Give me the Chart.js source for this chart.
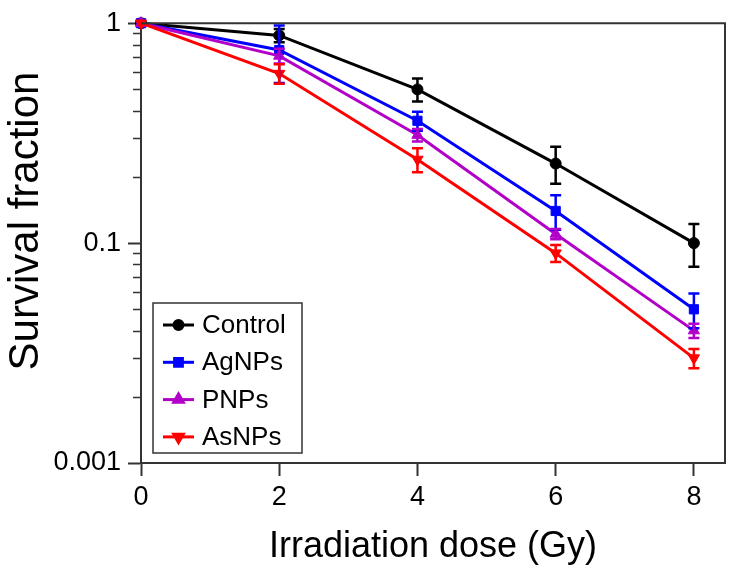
<!DOCTYPE html>
<html>
<head>
<meta charset="utf-8">
<script src="https://cdn.jsdelivr.net/npm/chart.js@4.4.1/dist/chart.umd.min.js"></script>
<style>
  body { margin: 0; background: #fff; }
  #wrap { width: 735px; height: 574px; position: relative; }
</style>
</head>
<body>
<div id="wrap"><canvas id="survivalChart"></canvas></div>
<script>
// Survival data
const doses = [0, 2, 4, 6, 8];
const seriesNames = ["Control", "AgNPs", "PNPs", "AsNPs"];
const control = [1, 0.88, 0.5, 0.23, 0.1];
const controlErr = [0, 0.06, 0.06, 0.044, 0.022];
const agnps = [1, 0.755, 0.36, 0.14, 0.05];
const agnpsErr = [0, 0.22, 0.036, 0.025, 0.009];
const pnps = [1, 0.71, 0.31, 0.11, 0.04];
const pnpsErr = [0, 0.055, 0.02, 0.006, 0.003];
const asnps = [1, 0.59, 0.24, 0.09, 0.03];
const asnpsErr = [0, 0.06, 0.03, 0.008, 0.003];

const xTicks = [0, 2, 4, 6, 8];
const yTicks = [0.01, 0.1, 1];
const yTickLabels = ["0.001", "0.1", "1"];

const colors = ["#000000", "#0000ff", "#b300c8", "#ff0000"];
const values = [control, agnps, pnps, asnps];
const errors = [controlErr, agnpsErr, pnpsErr, asnpsErr];
const styles = [
  { pointStyle: "circle", radius: 5.5, rotation: 0 },
  { pointStyle: "rect", radius: 6.5, rotation: 0 },
  { pointStyle: "triangle", radius: 6.5, rotation: 0 },
  { pointStyle: "triangle", radius: 6.5, rotation: 180 },
];

const FONT = "'Liberation Sans', Arial, sans-serif";
const AXIS = "#333333";

// error bars, minor ticks, frame, titles, legend
const decorPlugin = {
  id: "decor",
  afterDatasetsDraw(chart) {
    const ctx = chart.ctx;
    const y = chart.scales.y;
    ctx.save();
    values.forEach((vals, i) => {
      const meta = chart.getDatasetMeta(i);
      ctx.strokeStyle = colors[i];
      ctx.lineWidth = 2.5;
      vals.forEach((v, j) => {
        const e = errors[i][j];
        if (!e) return;
        const px = meta.data[j].x;
        const top = y.getPixelForValue(v + e);
        const bot = y.getPixelForValue(v - e);
        ctx.beginPath();
        ctx.moveTo(px, top); ctx.lineTo(px, bot);
        ctx.moveTo(px - 5.5, top); ctx.lineTo(px + 5.5, top);
        ctx.moveTo(px - 5.5, bot); ctx.lineTo(px + 5.5, bot);
        ctx.stroke();
      });
    });
    ctx.restore();
  },
  afterDraw(chart) {
    const ctx = chart.ctx;
    const a = chart.chartArea;
    const y = chart.scales.y;
    ctx.save();

    // frame top / right
    ctx.strokeStyle = AXIS;
    ctx.lineWidth = 2;
    ctx.beginPath();
    ctx.moveTo(a.left, a.top); ctx.lineTo(a.right, a.top); ctx.lineTo(a.right, a.bottom);
    ctx.stroke();

    // minor log ticks
    ctx.lineWidth = 1.5;
    ctx.beginPath();
    [0.01, 0.1].forEach((dec) => {
      for (let k = 2; k <= 9; k++) {
        const py = Math.round(y.getPixelForValue(dec * k)) + 0.5;
        ctx.moveTo(a.left - 8, py); ctx.lineTo(a.left, py);
      }
    });
    ctx.stroke();

    // axis titles
    ctx.fillStyle = "#000";
    ctx.textAlign = "center";
    ctx.textBaseline = "alphabetic";
    ctx.font = "36px " + FONT;
    ctx.fillText("Irradiation dose (Gy)", (a.left + a.right) / 2, 557);
    ctx.save();
    ctx.translate(38, 221);
    ctx.rotate(-Math.PI / 2);
    ctx.font = "42px " + FONT;
    ctx.fillText("Survival fraction", 0, 0);
    ctx.restore();

    // legend
    ctx.fillStyle = "#fff";
    ctx.fillRect(153, 303, 149, 150);
    ctx.strokeStyle = AXIS;
    ctx.lineWidth = 1.5;
    ctx.strokeRect(153, 303, 149, 150);
    ctx.font = "26px " + FONT;
    ctx.textAlign = "left";
    ctx.textBaseline = "middle";
    seriesNames.forEach((name, i) => {
      const ly = 325 + i * 37.3;
      ctx.strokeStyle = colors[i];
      ctx.fillStyle = colors[i];
      ctx.lineWidth = 3;
      ctx.beginPath();
      ctx.moveTo(163, ly); ctx.lineTo(194, ly);
      ctx.stroke();
      Chart.helpers.drawPoint(ctx, {
        pointStyle: styles[i].pointStyle,
        radius: styles[i].radius - 1,
        rotation: styles[i].rotation,
        borderWidth: 1,
      }, 178.5, ly);
      ctx.fillStyle = "#000";
      ctx.fillText(name, 202, ly + 1);
    });
    ctx.restore();
  },
};

function initChart() {
  const datasets = values.map((vals, i) => ({
    label: seriesNames[i],
    data: doses.map((d, j) => ({ x: d, y: vals[j] })),
    borderColor: colors[i],
    backgroundColor: colors[i],
    borderWidth: 3,
    pointStyle: styles[i].pointStyle,
    pointRadius: styles[i].radius,
    pointRotation: styles[i].rotation,
    pointBorderWidth: 1,
    tension: 0,
    clip: false,
    order: values.length - i,
  }));

  new Chart(document.getElementById("survivalChart"), {
    type: "line",
    data: { datasets },
    options: {
      responsive: true,
      maintainAspectRatio: false,
      animation: false,
      layout: { padding: { left: 0, right: 10, top: 22, bottom: 0 } },
      plugins: { legend: { display: false }, tooltip: { enabled: false } },
      scales: {
        x: {
          type: "linear",
          min: 0,
          max: 8.45,
          afterBuildTicks: (s) => { s.ticks = xTicks.map((v) => ({ value: v })); },
          afterFit: (s) => { s.height = 111; },
          border: { color: AXIS, width: 2 },
          grid: { drawOnChartArea: false, tickLength: 13, tickColor: AXIS, tickWidth: 2 },
          ticks: { color: "#000", font: { family: FONT, size: 27 }, padding: 5 },
        },
        y: {
          type: "logarithmic",
          min: 0.01,
          max: 1,
          afterBuildTicks: (s) => { s.ticks = yTicks.map((v) => ({ value: v })); },
          afterFit: (s) => { s.width = 141; },
          border: { color: AXIS, width: 2 },
          grid: { drawOnChartArea: false, tickLength: 13, tickColor: AXIS, tickWidth: 2 },
          ticks: {
            color: "#000",
            font: { family: FONT, size: 27 },
            padding: 7,
            callback: (v) => {
              const k = yTicks.findIndex((t) => Math.abs(t - v) < 1e-9);
              return k >= 0 ? yTickLabels[k] : "";
            },
          },
        },
      },
    },
    plugins: [decorPlugin],
  });
}

window.addEventListener("DOMContentLoaded", initChart);
</script>
</body>
</html>
